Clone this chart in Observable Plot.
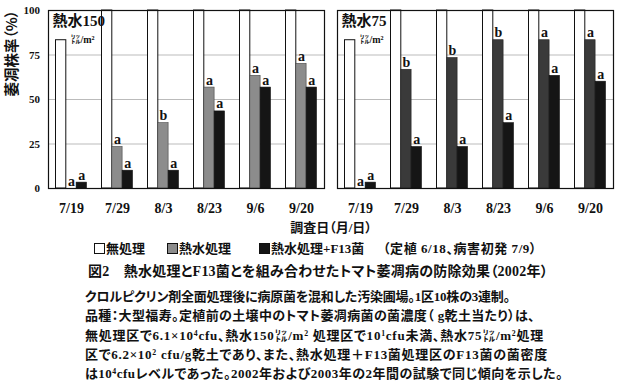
<!DOCTYPE html>
<html><head><meta charset="utf-8">
<script src="https://cdn.jsdelivr.net/npm/d3@7"></script>
<script src="https://cdn.jsdelivr.net/npm/@observablehq/plot@0.6"></script>
<style>
body{margin:0;background:#fff;}
#wrap{position:relative;width:619px;height:381px;overflow:hidden;font-family:'Liberation Serif','Noto Sans CJK JP',serif;font-weight:700;color:#111;font-feature-settings:"palt";}
#chart{position:absolute;left:0;top:0;}
.t{position:absolute;white-space:nowrap;line-height:1;}
.sw{position:absolute;width:9px;height:9px;border:1px solid #111;}
sup{font-size:0.6em;line-height:0;vertical-align:0.5em;}
</style></head><body>
<div id="wrap">
<div id="chart"></div>
<div class="t" style="left:331px;top:221px;font-size:13px;transform:translateX(-50%)">調査日（月/日）</div>
<span class="sw" style="left:94px;top:243px;background:#fff"></span>
<div class="t" style="left:106px;top:242px;font-size:13px">無処理</div>
<span class="sw" style="left:167px;top:243px;background:#8c8c8c"></span>
<div class="t" style="left:179px;top:242px;font-size:13px">熱水処理</div>
<span class="sw" style="left:259px;top:243px;background:#151515"></span>
<div class="t" style="left:271px;top:242px;font-size:13px">熱水処理+F13菌</div>
<div class="t fit" data-end="537" style="left:383px;top:242px;font-size:13px">（定植 6/18、病害初発 7/9）</div>
<div class="t fit" data-end="548" style="left:88px;top:265px;font-size:14px">図2　熱水処理とF13菌とを組み合わせたトマト萎凋病の防除効果（2002年）</div>
<div class="t fit" data-end="510" style="left:85px;top:290px;font-size:13px">クロルピクリン剤全面処理後に病原菌を混和した汚染圃場。1区10株の3連制。</div>
<div class="t fit" data-end="535" style="left:85px;top:309px;font-size:13px">品種：大型福寿。定植前の土壌中のトマト萎凋病菌の菌濃度（ g乾土当たり）は、</div>
<div class="t fit" data-end="544" style="left:85px;top:329px;font-size:13px">無処理区で6.1×10<sup>4</sup>cfu、熱水150㍑/m<sup>2</sup> 処理区で10<sup>1</sup>cfu未満、熱水75㍑/m<sup>2</sup>処理</div>
<div class="t fit" data-end="548" style="left:85px;top:348px;font-size:13px">区で6.2×10<sup>2</sup> cfu/g乾土であり、また、熱水処理＋F13菌処理区のF13菌の菌密度</div>
<div class="t fit" data-end="563" style="left:85px;top:367px;font-size:13px">は10<sup>4</sup>cfuレベルであった。2002年および2003年の2年間の試験で同じ傾向を示した。</div>
</div>
<script>
const dates = ["7/19","7/29","8/3","8/23","9/6","9/20"];
const panels = ["熱水150","熱水75"];
const panelUnits = ["㍑/m²","㍑/m²"];
const series = ["無処理","熱水処理","熱水処理+F13菌"];
const yLabel = "萎凋株率（%）";
// 熱水150 ㍑/m²
const untreated150 = [83.3,100,100,100,100,100];
const hot150 = [0,23.3,36.7,56.7,63.3,70];
const hotF13_150 = [3.3,10,10,43.3,56.7,56.7];
const hotLetters150 = ["a","a","b","a","a","a"];
const f13Letters150 = ["a","a","a","a","a","a"];
// 熱水75 ㍑/m²
const untreated75 = [83.3,100,100,100,100,100];
const hot75 = [0,66.7,73.3,83.3,83.3,83.3];
const hotF13_75 = [3.3,23.3,23.3,36.7,63.3,60];
const hotLetters75 = ["a","b","b","b","a","a"];
const f13Letters75 = ["a","a","a","a","a","a"];
const yTicks = [0,25,50,75,100];

const tables = [
  {panel: panels[0], vals: [untreated150, hot150, hotF13_150], letters: [null, hotLetters150, f13Letters150]},
  {panel: panels[1], vals: [untreated75, hot75, hotF13_75], letters: [null, hotLetters75, f13Letters75]}
];
const rows = [];
tables.forEach(t => dates.forEach((d, i) => series.forEach((s, k) => {
  rows.push({panel: t.panel, date: d, series: s, value: t.vals[k][i], letter: t.letters[k] ? t.letters[k][i] : null});
})));
const bySeries = s => rows.filter(r => r.series === s);
const info = panels.map((p, i) => ({panel: p, title: p, unit: panelUnits[i]}));
const serif = "'Liberation Serif','Noto Sans CJK JP',serif";

const chart = Plot.plot({
  width: 619, height: 220,
  marginLeft: 48, marginRight: 6, marginTop: 10, marginBottom: 32,
  style: {fontFamily: serif, fontWeight: 700, color: "#111", background: "transparent", overflow: "visible"},
  fx: {domain: panels, paddingInner: 0.045, paddingOuter: 0, axis: null},
  x: {type: "band", domain: dates, paddingInner: 0, paddingOuter: 0},
  y: {domain: [0,100]},
  marks: [
    Plot.gridY([25,50,75], {stroke: "#aaa", strokeOpacity: 1, strokeWidth: 0.8}),
    Plot.barY(bySeries(series[0]), {fx: "panel", x: "date", y: "value", fill: "#fff", stroke: "#111", strokeWidth: 1, insetLeft: 7.5, insetRight: 28.2}),
    Plot.barY(bySeries(series[1]).filter(r => r.panel === panels[0]), {fx: "panel", x: "date", y: "value", fill: "#8c8c8c", stroke: "#444", strokeWidth: 0.6, insetLeft: 17.8, insetRight: 17.9}),
    Plot.barY(bySeries(series[1]).filter(r => r.panel === panels[1]), {fx: "panel", x: "date", y: "value", fill: "#3a3a3a", stroke: "#222", strokeWidth: 0.6, insetLeft: 17.8, insetRight: 17.9}),
    Plot.barY(bySeries(series[2]), {fx: "panel", x: "date", y: "value", fill: "#151515", stroke: "#111", strokeWidth: 0.6, insetLeft: 28.1, insetRight: 7.5}),
    Plot.text(bySeries(series[1]), {fx: "panel", x: "date", y: "value", text: "letter", dy: -3, lineAnchor: "bottom", fontSize: 14, fontWeight: 700}),
    Plot.text(bySeries(series[2]), {fx: "panel", x: "date", y: "value", text: "letter", dx: 10.3, dy: -3, lineAnchor: "bottom", fontSize: 14, fontWeight: 700}),
    Plot.text(info, {fx: "panel", text: "title", frameAnchor: "top-left", dx: 4, dy: 5, lineAnchor: "top", textAnchor: "start", fontSize: 15, fontWeight: 700}),
    Plot.text(info, {fx: "panel", text: "unit", frameAnchor: "top-left", dx: 22, dy: 25, lineAnchor: "top", textAnchor: "start", fontSize: 10, fontWeight: 700}),
    Plot.text([{panel: panels[0], label: yLabel}], {fx: "panel", text: "label", frameAnchor: "left", rotate: -90, dx: -36, dy: -3, fontSize: 14.5, fontWeight: 700, fontFamily: "'Noto Sans CJK JP',sans-serif"}),
    Plot.frame({stroke: "#111", strokeWidth: 1.2}),
    Plot.axisX({tickSize: 0, tickPadding: 14.5, fontSize: 14, fontWeight: 700, label: null}),
    Plot.axisY({ticks: yTicks, tickSize: 0, tickPadding: 8.5, fontSize: 11, fontWeight: 700, label: null})
  ]
});
document.getElementById("chart").appendChild(chart);

function fit() {
  document.querySelectorAll(".fit").forEach(el => {
    el.style.letterSpacing = "0px";
    const left = parseFloat(el.style.left);
    const w = el.getBoundingClientRect().width;
    const n = Array.from(el.textContent).length;
    const ls = (+el.dataset.end - left - w) / n;
    el.style.letterSpacing = ls.toFixed(3) + "px";
  });
}
fit();
if (document.fonts && document.fonts.ready) document.fonts.ready.then(fit);
</script>
</body></html>
